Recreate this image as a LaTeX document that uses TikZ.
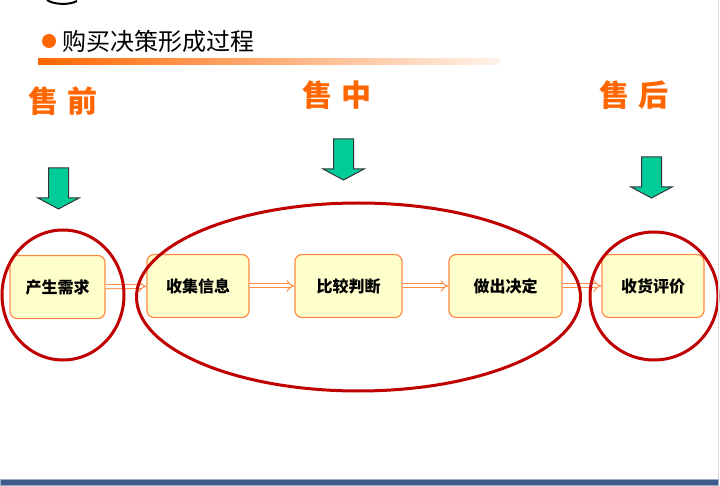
\documentclass[tikz,border=0pt]{standalone}
\usepackage{fontspec}
\newfontfamily\cjk{Noto Sans CJK SC}
\usetikzlibrary{shapes.geometric, arrows.meta, positioning}
\definecolor{saleorange}{HTML}{FF6600}
\definecolor{boxline}{HTML}{FF8A45}
\definecolor{boxfill}{HTML}{FFFFCC}
\definecolor{ringred}{HTML}{C00000}
\definecolor{arrgreen}{HTML}{00CC99}
\definecolor{footblue}{HTML}{3D5C8C}
\tikzstyle{stage} = [rectangle, rounded corners=7pt, minimum height=63pt, align=center, draw=boxline, line width=1.2pt, fill=boxfill, font=\cjk\bfseries\fontsize{16}{18}\selectfont]
\tikzstyle{phase} = [text=saleorange, font=\cjk\bfseries\fontsize{30}{32}\selectfont]
\tikzstyle{ring} = [ellipse, draw=ringred, line width=3pt, inner sep=0pt]
\tikzstyle{flow} = [draw=boxline, double=white, double distance=3pt, line width=1pt, -{Implies}]
\tikzstyle{greenarr} = [draw=black!80, fill=arrgreen, line width=1pt, line join=miter]

\begin{document}
\begin{tikzpicture}[x=1pt, y=-1pt]
            \useasboundingbox (0,0) rectangle (720,486);
            % Title
            \draw [line width=2pt] (47,0) .. controls (54,5) and (70,5) .. (77,1);
            \fill [saleorange] (49,41) circle (7);
            \node (title) [anchor=west, font=\cjk\fontsize{24}{26}\selectfont] at (59,41) {购买决策形成过程};
            \shade [left color=saleorange, right color=saleorange!8] (38,59) rectangle (500,65);

            % Phases
            \node (pre) [phase] at (63,101) {售\hspace{9pt}前};
            \node (mid) [phase] at (337,95) {售\hspace{9pt}中};
            \node (post) [phase] at (634,95) {售\hspace{9pt}后};

            % Down arrows
            \foreach \x/\t in {58.5/168, 343.5/139, 651.5/157}
                \draw [greenarr] (\x-10,\t) -- (\x+10,\t) -- (\x+10,\t+30) -- (\x+20.5,\t+30)
                    -- (\x,\t+41) -- (\x-20.5,\t+30) -- (\x-10,\t+30) -- cycle;

            % Stages
            \node (need) [stage, minimum width=95pt] at (57.5,287) {产生需求};
            \node (info) [stage, minimum width=102pt] at (198,286) {收集信息};
            \node (compare) [stage, minimum width=107pt] at (348.5,286) {比较判断};
            \node (decide) [stage, minimum width=113pt] at (505.5,286) {做出决定};
            \node (review) [stage, minimum width=102pt] at (653,286) {收货评价};

            % Edges
            \draw [flow] (need) -- (info);
            \draw [flow] (info) -- (compare);
            \draw [flow] (compare) -- (decide);
            \draw [flow] (decide) -- (review);

            % Rings
            \node (ringpre) [ring, minimum width=122pt, minimum height=130pt] at (63,295) {};
            \node (ringmid) [ring, minimum width=444pt, minimum height=188pt] at (358.5,297) {};
            \node (ringpost) [ring, minimum width=128pt, minimum height=128pt] at (654,296) {};

            % Frame
            \draw [gray!30, line width=0.8pt] (718.5,0) -- (718.5,480);
            \fill [footblue] (0,479) rectangle (718,485);
            \draw [footblue!50, line width=0.6pt] (0,479) rectangle (718,485);
        \end{tikzpicture}
\end{document}
